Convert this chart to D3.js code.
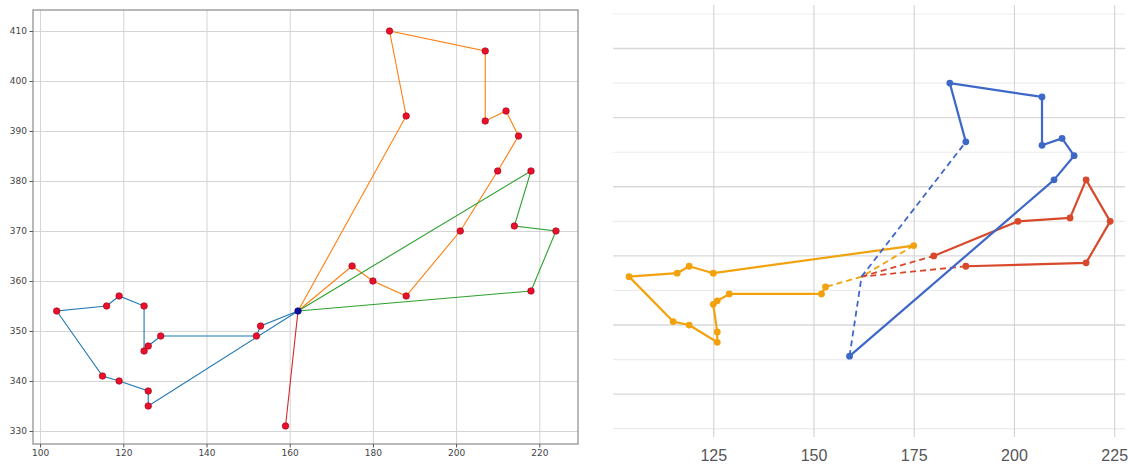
<!DOCTYPE html>
<html>
<head>
<meta charset="utf-8">
<script src="https://cdn.jsdelivr.net/npm/d3@7/dist/d3.min.js"></script>
<style>
  html, body { margin: 0; padding: 0; background: #fff; }
  svg { display: block; }
</style>
</head>
<body>
<svg id="chart" width="1128" height="466"></svg>
<script>
// ---------- DATA ----------
const depot = [162, 354];

// Left solution (closed routes, all legs through the depot)
const leftBlueRoute   = [[153,351],[152,349],[129,349],[126,347],[125,346],[125,355],[119,357],[116,355],[104,354],[115,341],[119,340],[126,338],[126,335]];
const leftOrangeRoute = [[188,393],[184,410],[207,406],[207,392],[212,394],[215,389],[210,382],[201,370],[188,357],[180,360],[175,363]];
const leftGreenRoute  = [[218,382],[214,371],[224,370],[218,358]];
const leftRedRoute    = [[159,331]];

// Right solution (depot legs drawn dashed)
const rightBlueRoute   = [[188,393],[184,410],[207,406],[207,392],[212,394],[215,389],[210,382],[159,331]];
const rightOrangeRoute = [[153,351],[152,349],[129,349],[126,347],[125,346],[126,338],[126,335],[119,340],[115,341],[104,354],[116,355],[119,357],[125,355],[175,363]];
const rightRedRoute    = [[180,360],[201,370],[214,371],[218,382],[224,370],[218,358],[188,357]];

const leftXTicks  = [100, 120, 140, 160, 180, 200, 220];
const leftYTicks  = [330, 340, 350, 360, 370, 380, 390, 400, 410];
const rightXTicks = [125, 150, 175, 200, 225];
const rightYGrid  = [310, 320, 330, 340, 350, 360, 370, 380, 390, 400, 410, 420, 430];

// ---------- LEFT PANEL ----------
const svg = d3.select("#chart");
const L = { left: 33, right: 578, top: 10, bottom: 444 };
const lx = d3.scaleLinear().domain([98.3, 229.3]).range([L.left, L.right]);
const ly = d3.scaleLinear().domain([327.4, 414.2]).range([L.bottom, L.top]);

const gL = svg.append("g");
// grid
gL.append("g").attr("transform", `translate(0,${L.bottom})`)
  .call(d3.axisBottom(lx).tickValues(leftXTicks).tickSize(-(L.bottom - L.top)).tickFormat(""))
  .call(g => g.select(".domain").remove())
  .call(g => g.selectAll("line").attr("stroke", "#d4d4d4").attr("stroke-width", 1));
gL.append("g").attr("transform", `translate(${L.left},0)`)
  .call(d3.axisLeft(ly).tickValues(leftYTicks).tickSize(-(L.right - L.left)).tickFormat(""))
  .call(g => g.select(".domain").remove())
  .call(g => g.selectAll("line").attr("stroke", "#d4d4d4").attr("stroke-width", 1));
// frame
gL.append("rect").attr("x", L.left).attr("y", L.top)
  .attr("width", L.right - L.left).attr("height", L.bottom - L.top)
  .attr("fill", "none").attr("stroke", "#8a8a8a").attr("stroke-width", 1.2);
// tick labels
gL.append("g").attr("transform", `translate(0,${L.bottom})`)
  .call(d3.axisBottom(lx).tickValues(leftXTicks).tickSize(3.5).tickPadding(2.5).tickFormat(d3.format("d")))
  .call(g => g.select(".domain").remove())
  .call(g => g.selectAll("line").attr("stroke", "#555"))
  .call(g => g.selectAll("text").attr("fill", "#444").attr("font-size", 9).attr("font-family", "DejaVu Sans"));
gL.append("g").attr("transform", `translate(${L.left},0)`)
  .call(d3.axisLeft(ly).tickValues(leftYTicks).tickSize(3.5).tickPadding(2.5).tickFormat(d3.format("d")))
  .call(g => g.select(".domain").remove())
  .call(g => g.selectAll("line").attr("stroke", "#555"))
  .call(g => g.selectAll("text").attr("fill", "#444").attr("font-size", 9).attr("font-family", "DejaVu Sans"));

const lLine = d3.line().x(d => lx(d[0])).y(d => ly(d[1]));
const leftRoutes = [
  { pts: leftBlueRoute,   color: "#1f77b4" },
  { pts: leftOrangeRoute, color: "#ff7f0e" },
  { pts: leftGreenRoute,  color: "#2ca02c" },
  { pts: leftRedRoute,    color: "#d62728" }
];
leftRoutes.forEach(r => {
  gL.append("path").datum([depot, ...r.pts, depot])
    .attr("d", lLine).attr("fill", "none").attr("stroke", r.color).attr("stroke-width", 1.1);
});
leftRoutes.forEach(r => {
  gL.selectAll(null).data(r.pts).enter().append("circle")
    .attr("cx", d => lx(d[0])).attr("cy", d => ly(d[1])).attr("r", 3.3)
    .attr("fill", "#e8102a").attr("stroke", "#a0001a").attr("stroke-width", 0.6);
});
gL.append("circle").attr("cx", lx(depot[0])).attr("cy", ly(depot[1])).attr("r", 3.3)
  .attr("fill", "#1010a0").attr("stroke", "#000070").attr("stroke-width", 0.6);

// ---------- RIGHT PANEL ----------
const R = { left: 613, right: 1125, top: 5, bottom: 437 };
const rx = d3.scaleLinear().domain([100, 227.7]).range([R.left, R.right]);
const ry = d3.scaleLinear().domain([307.6, 432.6]).range([R.bottom, R.top]);

const gR = svg.append("g");
gR.append("g").selectAll("line").data(rightYGrid).enter().append("line")
  .attr("x1", R.left).attr("x2", R.right)
  .attr("y1", d => ry(d)).attr("y2", d => ry(d))
  .attr("stroke", d => d % 20 === 0 ? "#d9d9d9" : "#ececec")
  .attr("stroke-width", d => d % 20 === 0 ? 1.4 : 1.2);
gR.append("g").attr("transform", `translate(0,${R.bottom})`)
  .call(d3.axisBottom(rx).tickValues(rightXTicks).tickSize(-(R.bottom - R.top)).tickFormat(""))
  .call(g => g.select(".domain").remove())
  .call(g => g.selectAll("line").attr("stroke", "#d6d6d6").attr("stroke-width", 1.2));
gR.append("g").attr("transform", `translate(0,${R.bottom})`)
  .call(d3.axisBottom(rx).tickValues(rightXTicks).tickSize(0).tickPadding(13).tickFormat(d3.format("d")))
  .call(g => g.select(".domain").remove())
  .call(g => g.selectAll("text").attr("fill", "#555").attr("font-size", 16).attr("font-family", "Liberation Sans, Arial, sans-serif"));

const rLine = d3.line().x(d => rx(d[0])).y(d => ry(d[1]));
const rightRoutes = [
  { pts: rightOrangeRoute, color: "#f2a20c" },
  { pts: rightRedRoute,    color: "#d8492c" },
  { pts: rightBlueRoute,   color: "#3e68c8" }
];
rightRoutes.forEach(r => {
  const first = r.pts[0], last = r.pts[r.pts.length - 1];
  gR.append("path").datum([depot, first]).attr("d", rLine)
    .attr("fill", "none").attr("stroke", r.color).attr("stroke-width", 1.8).attr("stroke-dasharray", "6,4");
  gR.append("path").datum([last, depot]).attr("d", rLine)
    .attr("fill", "none").attr("stroke", r.color).attr("stroke-width", 1.8).attr("stroke-dasharray", "6,4");
  gR.append("path").datum(r.pts).attr("d", rLine)
    .attr("fill", "none").attr("stroke", r.color).attr("stroke-width", 2.2).attr("stroke-linejoin", "round");
  gR.selectAll(null).data(r.pts).enter().append("circle")
    .attr("cx", d => rx(d[0])).attr("cy", d => ry(d[1])).attr("r", 3.4)
    .attr("fill", r.color);
});
</script>
</body>
</html>
